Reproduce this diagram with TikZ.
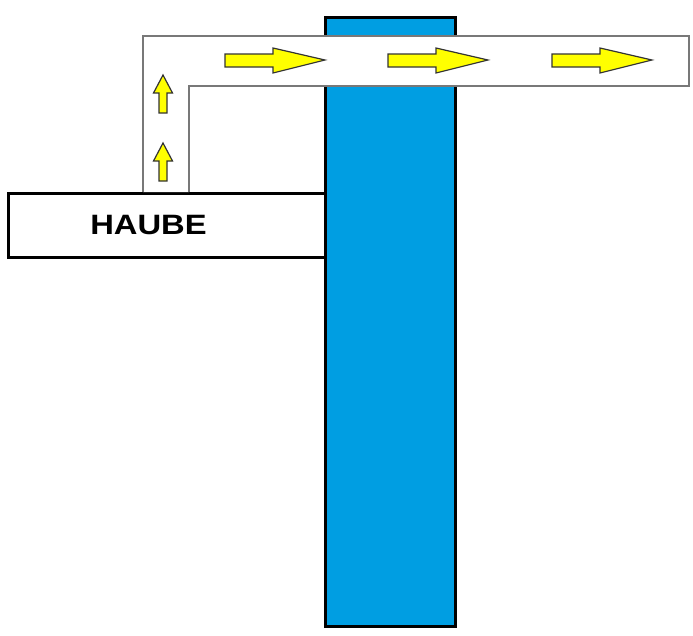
\documentclass[tikz,border=0pt]{standalone}
\usepackage{fontspec}
\setmainfont{Liberation Sans}
\definecolor{colblue}{RGB}{0,158,226}
\definecolor{ductgrey}{RGB}{120,120,120}
\definecolor{arrowyellow}{RGB}{255,255,0}
\begin{document}
\begin{tikzpicture}[x=1pt,y=-1pt,
  boxline/.style={draw=black,line width=3pt},
  duct/.style={draw=ductgrey,line width=1.6pt,fill=white,line join=miter},
  flowarrow/.style={draw=black!80,line width=1.2pt,fill=arrowyellow,line join=miter},
  label/.style={font=\bfseries\fontsize{28}{28}\selectfont,inner sep=0pt,xscale=1.17}]
\useasboundingbox (0,0) rectangle (693,635);
\fill[white] (0,0) rectangle (693,635);
% HAUBE box
\draw[boxline,fill=white] (8,193) rectangle (325,257);
\node[label] (haube) at (148.5,225) {HAUBE};
% column
\draw[boxline,fill=colblue] (325,17) rectangle (455,626);
% duct
\draw[duct] (143,192) -- (143,36) -- (689,36) -- (689,86) -- (189,86) -- (189,192);
\fill[white] (144.5,189) rectangle (187.5,192);
% horizontal arrows
\foreach \x in {225,388,552}{
  \draw[flowarrow] (\x,54) -- ++(48,0) -- ++(0,-6) -- ++(52,12) -- ++(-52,13) -- ++(0,-6) -- ++(-48,0) -- cycle;
}
% vertical arrows
\foreach \y in {75,143}{
  \draw[flowarrow] (163,\y) -- ++(9.5,18) -- ++(-5.5,0) -- ++(0,20) -- ++(-8,0) -- ++(0,-20) -- ++(-5.5,0) -- cycle;
}
\end{tikzpicture}
\end{document}
